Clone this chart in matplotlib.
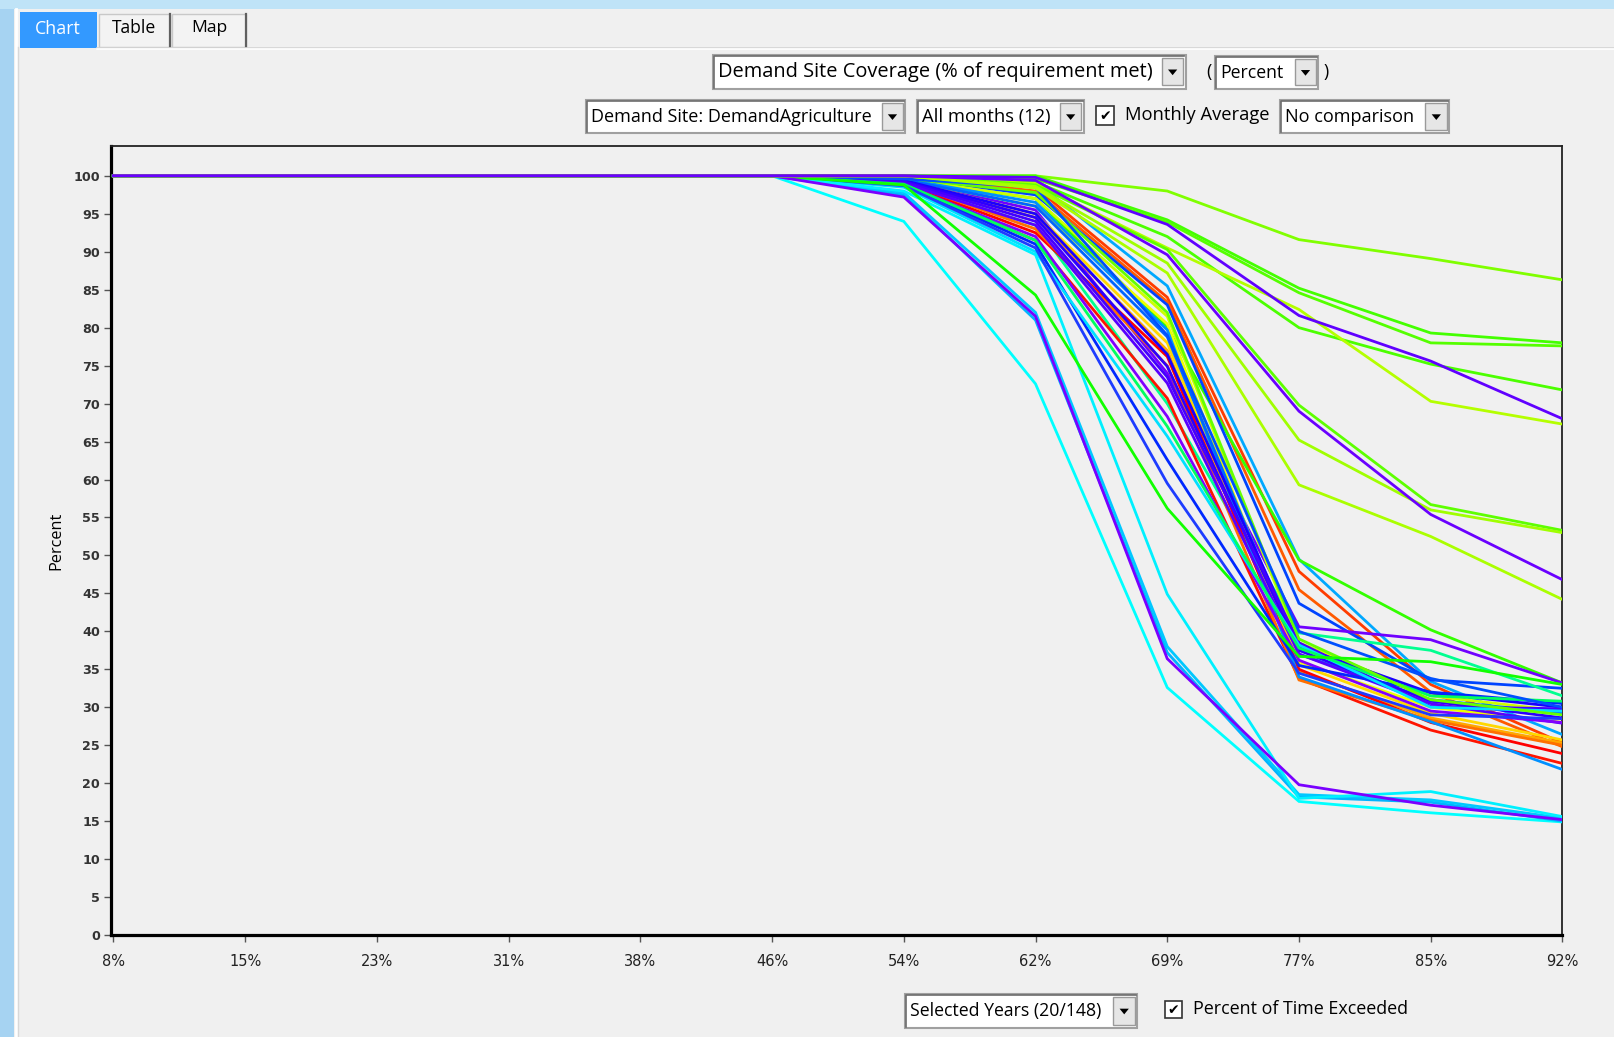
import matplotlib
matplotlib.use("Agg")
import matplotlib.pyplot as plt
from matplotlib.patches import Rectangle, Polygon

# ---------------- data ----------------
exceed_labels = ["8%", "15%", "23%", "31%", "38%", "46%",
                 "54%", "62%", "69%", "77%", "85%", "92%"]
y_ticks = [0, 5, 10, 15, 20, 25, 30, 35, 40, 45, 50,
           55, 60, 65, 70, 75, 80, 85, 90, 95, 100]

# main bundle (coverage % at each exceedance level)
m01 = [100, 100, 100, 100, 100, 100, 100.0, 98.5, 84.0, 47.9, 33.0, 25.3]
m02 = [100, 100, 100, 100, 100, 100, 100.0, 98.0, 83.4, 45.5, 32.0, 24.8]
m03 = [100, 100, 100, 100, 100, 100, 100.0, 99.2, 85.5, 49.5, 33.4, 26.4]
m04 = [100, 100, 100, 100, 100, 100, 99.6, 97.0, 80.0, 49.4, 40.2, 33.2]
m05 = [100, 100, 100, 100, 100, 100, 99.8, 97.5, 83.0, 43.7, 33.6, 32.5]
m06 = [100, 100, 100, 100, 100, 100, 99.5, 95.5, 74.0, 40.6, 38.9, 33.2]
m07 = [100, 100, 100, 100, 100, 100, 99.0, 93.5, 70.0, 39.8, 37.5, 31.5]
m08 = [100, 100, 100, 100, 100, 100, 99.7, 97.0, 81.5, 38.5, 31.5, 29.5]
m09 = [100, 100, 100, 100, 100, 100, 99.5, 96.0, 80.5, 36.0, 30.0, 28.0]
m10 = [100, 100, 100, 100, 100, 100, 99.4, 95.0, 78.0, 35.6, 29.2, 25.7]
m11 = [100, 100, 100, 100, 100, 100, 99.3, 94.5, 77.0, 34.7, 28.6, 25.3]
m12 = [100, 100, 100, 100, 100, 100, 99.0, 92.5, 76.2, 35.0, 28.0, 23.9]
m13 = [100, 100, 100, 100, 100, 100, 98.9, 91.5, 70.7, 33.8, 27.0, 22.6]
m14 = [100, 100, 100, 100, 100, 100, 99.2, 93.0, 75.0, 33.6, 28.3, 25.0]
m15 = [100, 100, 100, 100, 100, 100, 99.6, 96.5, 79.7, 34.0, 28.1, 21.8]
m16 = [100, 100, 100, 100, 100, 100, 99.5, 96.0, 78.8, 37.0, 31.0, 29.2]
m17 = [100, 100, 100, 100, 100, 100, 99.4, 95.0, 76.5, 38.0, 31.9, 30.0]
m18 = [100, 100, 100, 100, 100, 100, 99.3, 94.5, 74.9, 37.5, 30.8, 28.6]
m19 = [100, 100, 100, 100, 100, 100, 99.2, 94.0, 73.5, 38.5, 30.1, 29.8]
m20 = [100, 100, 100, 100, 100, 100, 99.0, 93.5, 72.7, 37.0, 30.5, 27.9]
m21 = [100, 100, 100, 100, 100, 100, 98.8, 92.0, 68.3, 36.2, 29.5, 28.0]
m22 = [100, 100, 100, 100, 100, 100, 98.8, 91.0, 62.6, 35.5, 32.0, 30.5]
m23 = [100, 100, 100, 100, 100, 100, 98.5, 90.0, 65.7, 38.2, 30.0, 29.5]
m24 = [100, 100, 100, 100, 100, 100, 98.9, 91.5, 67.0, 37.8, 31.5, 30.8]
m25 = [100, 100, 100, 100, 100, 100, 98.7, 90.5, 59.5, 34.5, 29.0, 28.5]
m26 = [100, 100, 100, 100, 100, 100, 99.7, 97.8, 82.0, 39.0, 31.0, 29.0]
m27 = [100, 100, 100, 100, 100, 100, 99.6, 98.5, 79.0, 40.0, 33.8, 30.0]

# early-dropping years
l01 = [100, 100, 100, 100, 100, 100, 94.0, 72.6, 32.6, 17.6, 16.1, 14.9]
l02 = [100, 100, 100, 100, 100, 100, 97.5, 81.0, 37.2, 18.2, 17.5, 15.0]
l03 = [100, 100, 100, 100, 100, 100, 97.8, 82.0, 38.0, 18.5, 17.8, 15.4]
l04 = [100, 100, 100, 100, 100, 100, 98.0, 89.6, 44.9, 18.0, 18.9, 15.6]
l05 = [100, 100, 100, 100, 100, 100, 98.8, 84.3, 56.2, 36.7, 36.0, 33.0]
l06 = [100, 100, 100, 100, 100, 100, 97.2, 81.5, 36.4, 19.8, 17.1, 15.2]

# wetter years
u01 = [100, 100, 100, 100, 100, 100, 100.0, 100.0, 98.0, 91.6, 89.1, 86.3]
u02 = [100, 100, 100, 100, 100, 100, 100.0, 100.0, 94.2, 85.2, 79.3, 78.0]
u03 = [100, 100, 100, 100, 100, 100, 100.0, 99.6, 93.9, 84.6, 78.0, 77.6]
u04 = [100, 100, 100, 100, 100, 100, 100.0, 99.2, 92.0, 80.0, 75.2, 71.8]
u05 = [100, 100, 100, 100, 100, 100, 100.0, 99.0, 90.5, 82.4, 70.3, 67.3]
u06 = [100, 100, 100, 100, 100, 100, 100.0, 98.8, 90.3, 69.8, 56.7, 53.3]
u07 = [100, 100, 100, 100, 100, 100, 100.0, 98.6, 88.5, 65.2, 56.0, 53.0]
u08 = [100, 100, 100, 100, 100, 100, 100.0, 98.4, 87.2, 59.3, 52.5, 44.2]
u09 = [100, 100, 100, 100, 100, 100, 100.0, 99.8, 93.6, 81.6, 75.6, 68.0]
u10 = [100, 100, 100, 100, 100, 100, 100.0, 99.4, 89.6, 69.0, 55.4, 46.8]

series = [m01, m02, m03, m04, m05, m06, m07, m08, m09, m10, m11, m12, m13, m14,
          m15, m16, m17, m18, m19, m20, m21, m22, m23, m24, m25, m26, m27,
          l01, l02, l03, l04, l05, l06,
          u01, u02, u03, u04, u05, u06, u07, u08, u09, u10]
series_colors = ["#ff3c00", "#ff5a00", "#00a8ff", "#33ff00", "#0044ff", "#7000ff",
                 "#00ff90", "#ccff00", "#eeff00", "#ffd800", "#ffa800", "#ff0000",
                 "#ff1400", "#ff7000", "#0090ff", "#0066ff", "#1a00ff", "#2c00ff",
                 "#4400ff", "#5800ff", "#8000ff", "#0028ff", "#00e0ff", "#00ff60",
                 "#1e3cff", "#66ff00", "#0050ff",
                 "#00ffff", "#00b4ff", "#00c8ff", "#00f0ff", "#11ff00", "#7a00ff",
                 "#80ff00", "#44ff00", "#55ff00", "#4cff00", "#b4ff00", "#5eff00",
                 "#a0ff00", "#aaff00", "#6000ff", "#6a00ff"]

# ---------------- figure ----------------
W, H = 1568.0, 1007.0          # design coordinates
S = 1615.0 / 1568.0            # output px per design unit
BG = "#f0f0f0"

fig = plt.figure(figsize=(16.15, 10.37), dpi=100, facecolor=BG)
ui = fig.add_axes([0, 0, 1, 1], zorder=0)
ui.set_xlim(0, W)
ui.set_ylim(H, 0)
ui.axis("off")
ui.set_facecolor(BG)

UIFONT = ["Open Sans", "DejaVu Sans"]
texts_to_fit = []


def put(x, y, s, target_w, ha="left", color="#000000", rot=0):
    t = ui.text(x, y, s, ha=ha, va="center", color=color, fontsize=12,
                family=UIFONT, rotation=rot)
    texts_to_fit.append((t, target_w, rot))
    return t


def arrow_btn(x0, y0, x1, y1):
    ui.add_patch(Rectangle((x0, y0), x1 - x0, y1 - y0, fc="#e6e6e6",
                           ec="#9a9a9a", lw=1.0))
    cx, cy = (x0 + x1) / 2, (y0 + y1) / 2
    ui.add_patch(Polygon([(cx - 4.5, cy - 2), (cx + 4.5, cy - 2), (cx, cy + 3.5)],
                         closed=True, fc="#000000", ec="none"))


def combo(x0, y0, x1, y1, text, tw):
    ui.add_patch(Rectangle((x0, y0), x1 - x0, y1 - y0, fc="#ffffff",
                           ec="#a0a0a0", lw=1.5))
    ui.plot([x0 + 1, x0 + 1, x1 - 1], [y1 - 1, y0 + 1, y0 + 1], color="#6e6e6e", lw=1.2)
    arrow_btn(x1 - 23, y0 + 3, x1 - 2, y1 - 3)
    put(x0 + 5, (y0 + y1) / 2 + 0.5, text, tw)


def checkbox(x0, y0, size):
    ui.add_patch(Rectangle((x0, y0), size, size, fc="#ffffff", ec="#333333", lw=1.2))
    ui.text(x0 + size / 2, y0 + size / 2 + 0.5, "\u2714", ha="center", va="center",
            fontsize=10, family=["DejaVu Sans"], color="#000000")


# desktop strips
ui.add_patch(Rectangle((0, 0), 14, H, fc="#a6d3f2", ec="none"))
ui.add_patch(Rectangle((0, 0), W, 9, fc="#bfe3f7", ec="none"))
ui.plot([15.5, 15.5], [9, H], color="#ffffff", lw=2)
ui.plot([17.5, 17.5], [46, H], color="#d8d8d8", lw=1)

# tabs
ui.plot([94, W], [46.5, 46.5], color="#d4d4d4", lw=1.2)
ui.plot([94, W], [48, 48], color="#ffffff", lw=1.2)
ui.add_patch(Rectangle((96, 14), 69, 32, fc="#f3f3f3", ec="#c8c8c8", lw=1))
ui.add_patch(Rectangle((167, 14), 72, 32, fc="#f3f3f3", ec="#c8c8c8", lw=1))
ui.plot([165, 165], [14, 45], color="#606060", lw=1.6)
ui.plot([239, 239], [14, 45], color="#606060", lw=1.6)
ui.add_patch(Rectangle((19, 12), 75, 35, fc="#3399ff", ec="none"))
put(56, 28, "Chart", 44, ha="center", color="#ffffff")
put(130, 27, "Table", 43, ha="center")
put(203.5, 27, "Map", 35, ha="center")

# selectors
combo(692, 53, 1151, 86, "Demand Site Coverage (% of requirement met)", 420)
put(1171, 70, "(", 5)
combo(1180, 54, 1280, 86, "Percent", 61)
put(1285, 70, ")", 5)
combo(569, 97, 879, 129, "Demand Site: DemandAgriculture", 272)
combo(890, 97, 1052, 129, "All months (12)", 124)
checkbox(1064, 103, 18)
put(1092, 112, "Monthly Average", 140)
combo(1243, 97, 1407, 129, "No comparison", 125)

combo(879, 965, 1104, 998, "Selected Years (20/148)", 185)
checkbox(1131, 972, 17)
put(1158, 980, "Percent of Time Exceeded", 208)

# y-axis title
put(55, 525, "Percent", 56, ha="center", rot=90)

# ---------------- chart ----------------
ax = fig.add_axes([108 / W, 1 - 908 / H, (1517 - 108) / W, (908 - 142) / H], zorder=2)
ax.set_facecolor(BG)
xs = list(range(len(exceed_labels)))
for vals, col in zip(series, series_colors):
    ax.plot(xs, vals, color=col, lw=2.0, solid_joinstyle="miter", zorder=3)

ax.set_xlim(-0.016, 11)
ax.set_ylim(0, 103.9)
ax.set_xticks(xs)
ax.set_xticklabels(exceed_labels, family=["Liberation Sans Narrow", "DejaVu Sans"],
                   fontsize=10.5, color="#222222")
ax.set_yticks(y_ticks)
ax.set_yticklabels([str(v) for v in y_ticks], family=["DejaVu Sans"],
                   fontsize=9.2, fontweight="bold", color="#333333")
ax.tick_params(axis="x", length=5, width=1, color="#555555", pad=9, direction="out")
ax.tick_params(axis="y", length=5, width=1, color="#555555", pad=3, direction="out")
for side in ("left", "bottom"):
    ax.spines[side].set_linewidth(2.3)
    ax.spines[side].set_color("#000000")
for side in ("top", "right"):
    ax.spines[side].set_linewidth(1.3)
    ax.spines[side].set_color("#222222")

# fit UI text widths
fig.canvas.draw()
r = fig.canvas.get_renderer()
for t, tw, rot in texts_to_fit:
    bb = t.get_window_extent(r)
    cur = bb.height if rot == 90 else bb.width
    if cur > 0:
        t.set_fontsize(t.get_fontsize() * tw * S / cur)

fig.savefig("out.png", dpi=100, facecolor=BG)
